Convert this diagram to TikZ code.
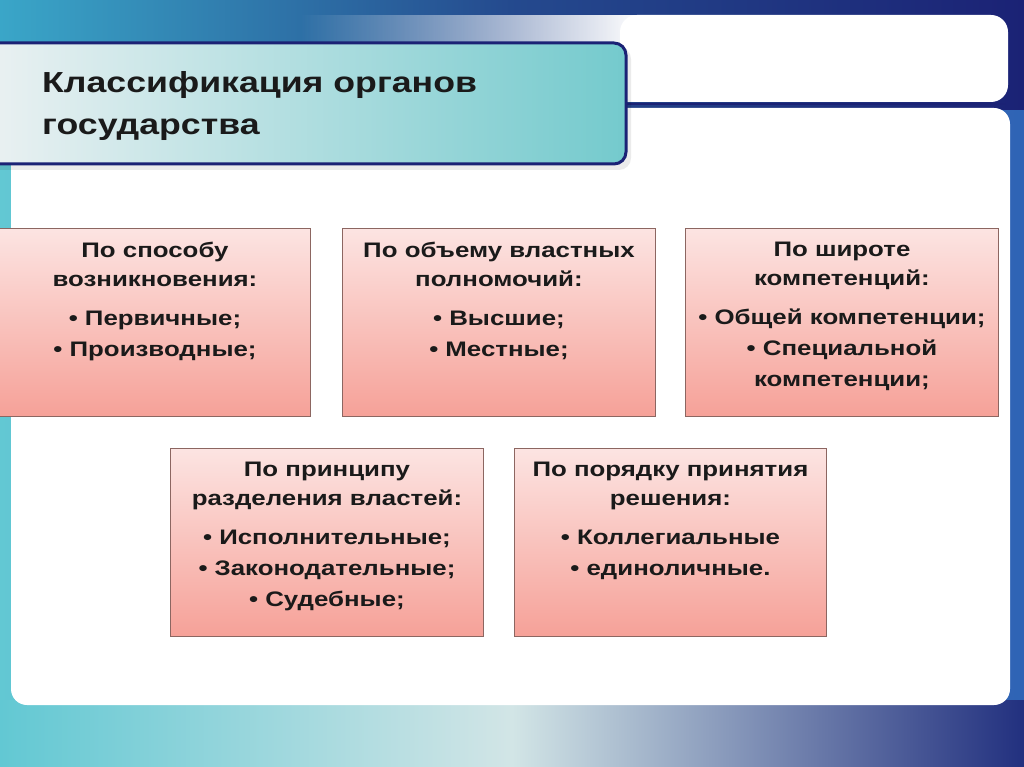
\documentclass[tikz,border=0pt]{standalone}
\usepackage{fontspec}
\setmainfont{Liberation Sans}[FakeStretch=1.23]
\usetikzlibrary{fadings}
\definecolor{navy}{HTML}{1B2275}
\definecolor{topteal}{HTML}{3AA6C8}
\definecolor{botteal}{HTML}{62C8D3}
\definecolor{botmid}{HTML}{D2E5E6}
\definecolor{botnavy}{HTML}{22307F}
\definecolor{sideblue}{HTML}{2F63B5}
\definecolor{titleleft}{HTML}{EEF2F3}
\definecolor{titleright}{HTML}{74CACD}
\definecolor{pinktop}{HTML}{FCE4E2}
\definecolor{pinkbot}{HTML}{F6A198}
\definecolor{pinkedge}{HTML}{8C6661}
\definecolor{txt}{HTML}{1A1A1A}
\tikzfading[name=fadein, left color=transparent!100, right color=transparent!0]
\tikzset{
  card/.style={draw=pinkedge, line width=0.9pt, top color=pinktop, bottom color=pinkbot,
    minimum width=311pt, minimum height=188pt, inner sep=0pt, anchor=north west},
  cardtext/.style={anchor=north, align=center, text=txt, inner sep=0pt,
    font=\bfseries\fontsize{21}{31}\selectfont},
  titletext/.style={anchor=base west, text=txt, inner sep=0pt,
    font=\bfseries\fontsize{29}{35}\selectfont}
}
\begin{document}
\begin{tikzpicture}[x=1pt,y=-1pt]
\useasboundingbox (0,0) rectangle (1024,767);
% background
\shade[left color=botteal, right color=sideblue] (0,0) rectangle (1024,767);
\shade[left color=topteal, right color=navy, middle color=navy!70!topteal] (0,0) rectangle (1024,110);
\shade[left color=botteal, right color=botnavy, middle color=botmid] (0,700) rectangle (1024,767);
% upper white panel
\fill[white, rounded corners=17] (620,15) -- (1008,15) -- (1008,102) -- (620,102) -- cycle;
\fill[white, path fading=fadein] (300,15) rectangle (640,102);
% separator
\draw[navy, line width=2pt] (620,104.5) -- (1006,104.5);
% main white panel
\fill[white, rounded corners=16] (11,108) rectangle (1010,705);
% title box shadow
\fill[black, opacity=0.08, rounded corners=12] (-30,47) -- (631,47) -- (631,170) -- (-30,170) -- cycle;
% title box
\shadedraw[draw=navy, line width=3pt, left color=titleleft, right color=titleright, rounded corners=12]
  (-30,43) -- (626,43) -- (626,164) -- (-30,164) -- cycle;
\node[titletext] (title1) at (42,93) {Классификация органов};
\node[titletext] (title2) at (42,135) {государства};
% cards
\node[card] (c1) at (-1,228) {};
\node[card, minimum width=313pt] (c2) at (342,228) {};
\node[card, minimum width=313pt] (c3) at (685,228) {};
\node[card, minimum width=313pt] (c4) at (170,448) {};
\node[card, minimum width=312pt] (c5) at (514,448) {};
\node[cardtext] (t1) at ([yshift=-14pt]c1.north) {По способу\\[-2pt]возникновения:\\[8pt]• Первичные;\\• Производные;};
\node[cardtext] (t2) at ([yshift=-14pt]c2.north) {По объему властных\\[-2pt]полномочий:\\[8pt]• Высшие;\\• Местные;};
\node[cardtext] (t3) at ([yshift=-14pt]c3.north) {По широте\\[-2pt]компетенций:\\[8pt]• Общей компетенции;\\• Специальной\\компетенции;};
\node[cardtext] (t4) at ([yshift=-14pt]c4.north) {По принципу\\[-2pt]разделения властей:\\[8pt]• Исполнительные;\\• Законодательные;\\• Судебные;};
\node[cardtext] (t5) at ([yshift=-14pt]c5.north) {По порядку принятия\\[-2pt]решения:\\[8pt]• Коллегиальные\\• единоличные.};
\end{tikzpicture}
\end{document}
